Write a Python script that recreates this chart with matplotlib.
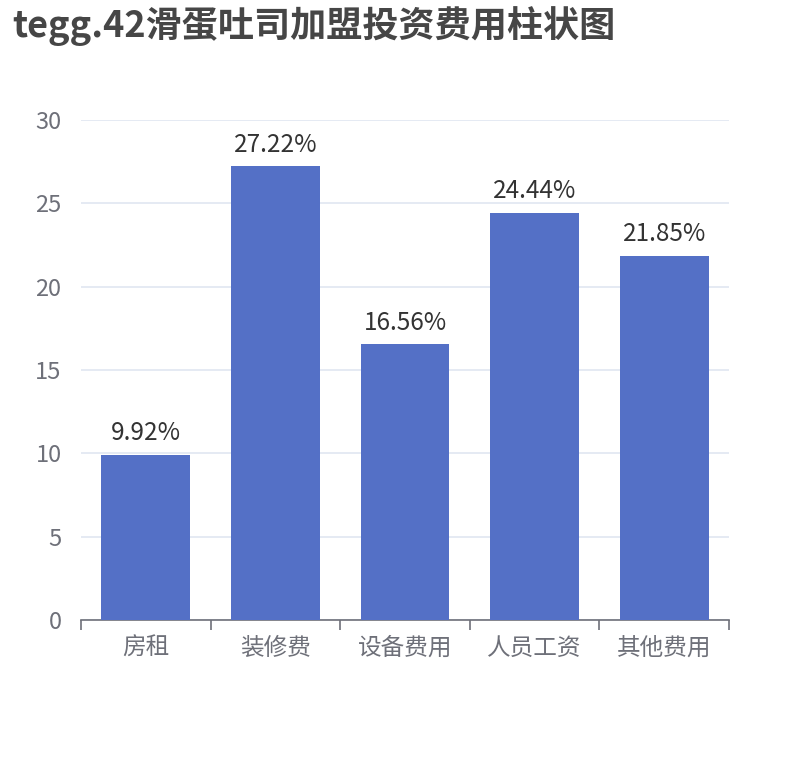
import matplotlib
matplotlib.use('Agg')
import matplotlib.pyplot as plt

plt.rcParams['font.family'] = ['Noto Sans CJK SC', 'DejaVu Sans']

# data
categories = ['房租', '装修费', '设备费用', '人员工资', '其他费用']
values = [9.92, 27.22, 16.56, 24.44, 21.85]
yticks = [0, 5, 10, 15, 20, 25, 30]

W, H = 810, 760
fig = plt.figure(figsize=(W / 100, H / 100), dpi=100)
ax = fig.add_axes([81 / W, 1 - 620 / H, (729 - 81) / W, (620 - 120) / H])

x = list(range(len(categories)))
ax.bar(x, values, width=0.685, color='#5470c6', zorder=3)
for xi, v in zip(x, values):
    ax.annotate(f'{v:.2f}%', (xi, v), xytext=(0, 6), textcoords='offset points',
                ha='center', va='bottom', fontsize=17.5, color='#333333')

ax.set_xlim(-0.5, len(categories) - 0.5)
ax.set_ylim(0, 30)
ax.set_yticks(yticks)
ax.grid(axis='y', color='#E0E6F1', linewidth=1.2, zorder=0)

# category axis: ticks on boundaries, labels in the middle
ax.set_xticks([i - 0.5 for i in range(len(categories) + 1)])
ax.set_xticklabels([])
ax.set_xticks(x, minor=True)
ax.set_xticklabels(categories, minor=True)
ax.tick_params(axis='x', which='major', length=7, width=1.2, color='#6E7079')
ax.tick_params(axis='x', which='minor', length=0, pad=12, labelsize=17, labelcolor='#6E7079')
ax.tick_params(axis='y', length=0, pad=14, labelsize=17, labelcolor='#6E7079')

for s in ['top', 'right', 'left']:
    ax.spines[s].set_visible(False)
ax.spines['bottom'].set_color('#6E7079')
ax.spines['bottom'].set_linewidth(1.2)

fig.text(12 / W, 1 - 26 / H, 'tegg.42滑蛋吐司加盟投资费用柱状图', fontsize=26,
         fontweight='bold', color='#464646', va='center', ha='left')

fig.savefig('out.png', dpi=100)
